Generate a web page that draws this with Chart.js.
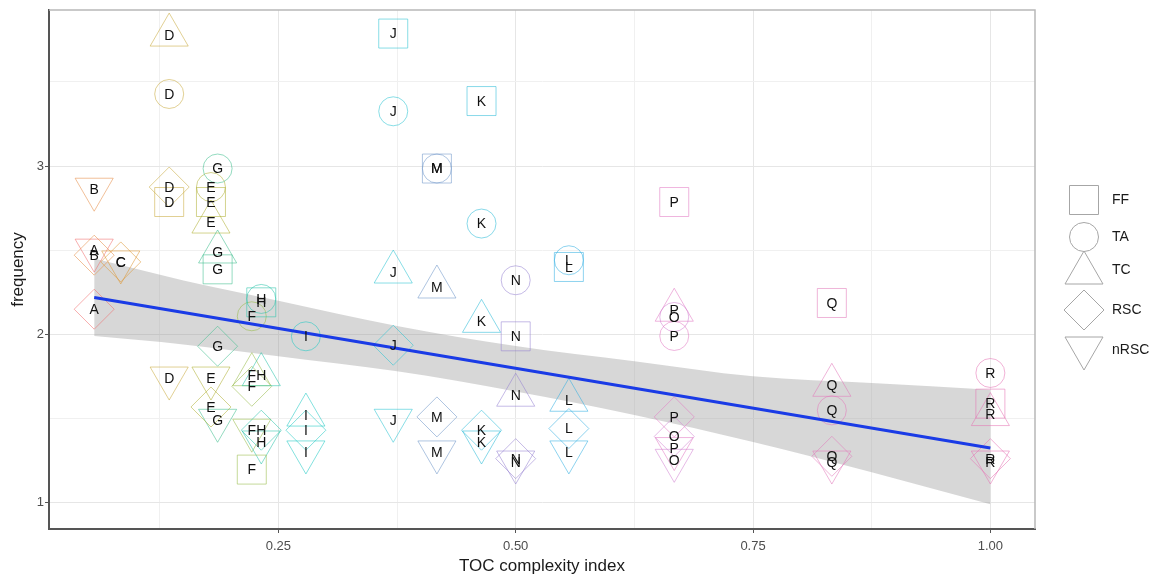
<!DOCTYPE html>
<html>
<head>
<meta charset="utf-8">
<script src="https://cdn.jsdelivr.net/npm/chart.js@4.4.1/dist/chart.umd.min.js"></script>
<style>
html, body { margin: 0; padding: 0; background: #fff; }
#wrap { width: 1163px; height: 575px; position: relative; }
</style>
</head>
<body>
<div id="wrap"><canvas id="tocChart"></canvas></div>
<script>
// letters and their TOC complexity index
var letters = ['A', 'B', 'C', 'D', 'E', 'F', 'G', 'H', 'I', 'J', 'K', 'L', 'M', 'N', 'O', 'P', 'Q', 'R'];
var letterX = [0.056, 0.056, 0.084, 0.135, 0.179, 0.222, 0.186, 0.232, 0.279, 0.371, 0.464, 0.556, 0.417, 0.5, 0.667, 0.667, 0.833, 1.0];
var letterColors = [
	'240,110,110', '230,140,70', '220,150,50', '200,170,60', '175,175,50', '150,185,70',
	'60,190,140', '40,195,170', '30,200,195', '40,195,210', '40,185,215', '50,175,225',
	'110,150,200', '150,130,210', '210,130,210', '225,120,195', '225,120,185', '230,115,180'
];

// frequency per shape group
var ffLetters = ['D', 'E', 'F', 'G', 'H', 'J', 'K', 'L', 'M', 'N', 'P', 'Q', 'R'];
var ffValues = [2.786, 2.786, 1.196, 2.386, 2.19, 3.787, 3.386, 2.40, 2.985, 1.988, 2.786, 2.186, 1.588];

var taLetters = ['D', 'E', 'F', 'G', 'H', 'I', 'J', 'K', 'L', 'M', 'N', 'O', 'P', 'Q', 'R'];
var taValues = [3.428, 2.875, 2.107, 2.985, 2.21, 1.988, 3.325, 2.658, 2.44, 2.985, 2.321, 2.103, 1.99, 1.548, 1.770];

var tcLetters = ['D', 'E', 'F', 'G', 'H', 'I', 'J', 'K', 'L', 'M', 'N', 'P', 'Q', 'R'];
var tcValues = [3.778, 2.667, 1.76, 2.489, 1.76, 1.52, 2.370, 2.077, 1.608, 2.281, 1.638, 2.143, 1.697, 1.523];

var rscLetters = ['A', 'B', 'C', 'D', 'E', 'F', 'G', 'H', 'I', 'J', 'K', 'L', 'M', 'N', 'O', 'P', 'Q', 'R'];
var rscValues = [2.149, 2.47, 2.43, 2.875, 1.568, 1.691, 1.929, 1.43, 1.43, 1.935, 1.430, 1.440, 1.509, 1.261, 1.393, 1.509, 1.275, 1.261];

var nrscLetters = ['A', 'B', 'C', 'D', 'E', 'F', 'G', 'H', 'I', 'J', 'K', 'L', 'M', 'N', 'O', 'P', 'Q', 'R'];
var nrscValues = [2.50, 2.862, 2.43, 1.740, 1.740, 1.43, 1.489, 1.36, 1.301, 1.489, 1.360, 1.301, 1.301, 1.241, 1.251, 1.321, 1.241, 1.241];

// fitted line and its confidence band
var fitX = [0.056, 1.0];
var fitY = [2.218, 1.324];
var bandX = [0.056, 0.15, 0.25, 0.375, 0.5, 0.625, 0.75, 0.875, 1.0];
var bandLower = [1.99, 1.94, 1.87, 1.78, 1.66, 1.52, 1.36, 1.18, 0.99];
var bandUpper = [2.45, 2.32, 2.20, 2.05, 1.93, 1.84, 1.75, 1.71, 1.67];

var xTickValues = [0.125, 0.25, 0.375, 0.5, 0.625, 0.75, 0.875, 1.0];
var xTickLabels = ['', '0.25', '', '0.50', '', '0.75', '', '1.00'];
var yTickValues = [1, 1.5, 2, 2.5, 3, 3.5];
var yTickLabels = ['1', '', '2', '', '3', ''];

var legendNames = ['FF', 'TA', 'TC', 'RSC', 'nRSC'];

var FONT = "'Liberation Sans', Arial, sans-serif";

function colorOf(letter, a) {
	return 'rgba(' + letterColors[letters.indexOf(letter)] + ',' + a + ')';
}

function shapeData(ls, vs) {
	return ls.map(function (l, i) {
		return { x: letterX[letters.indexOf(l)], y: vs[i], letter: l };
	});
}

function shapeSet(name, ls, vs, style, radius, rotation) {
	var data = shapeData(ls, vs);
	return {
		type: 'scatter',
		label: name,
		data: data,
		isShape: true,
		pointStyle: style,
		pointRadius: radius,
		pointRotation: rotation,
		pointBorderWidth: 1,
		pointBackgroundColor: 'rgba(0,0,0,0)',
		pointBorderColor: data.map(function (d) { return colorOf(d.letter, 0.55); }),
		order: 2
	};
}

function xy(xs, ys) {
	return xs.map(function (x, i) { return { x: x, y: ys[i] }; });
}

function isMajorX(v) { return Math.abs(v * 4 - Math.round(v * 4)) < 1e-6; }
function isMajorY(v) { return Math.abs(v - Math.round(v)) < 1e-6; }

// letters on top of the shapes, borders, custom legend
var extrasPlugin = {
	id: 'extras',
	beforeDatasetsDraw: function (chart) {
		var ctx = chart.ctx, a = chart.chartArea;
		ctx.save();
		ctx.strokeStyle = '#b8b8b8';
		ctx.lineWidth = 1.5;
		ctx.beginPath();
		ctx.moveTo(a.left, a.top);
		ctx.lineTo(a.right, a.top);
		ctx.lineTo(a.right, a.bottom);
		ctx.stroke();
		ctx.restore();
	},
	afterDatasetsDraw: function (chart) {
		var ctx = chart.ctx;
		ctx.save();
		ctx.fillStyle = '#111';
		ctx.font = '14px ' + FONT;
		ctx.textAlign = 'center';
		ctx.textBaseline = 'middle';
		chart.data.datasets.forEach(function (ds, i) {
			if (!ds.isShape) return;
			chart.getDatasetMeta(i).data.forEach(function (pt, j) {
				ctx.fillText(ds.data[j].letter, pt.x, pt.y + 1);
			});
		});
		ctx.restore();
	},
	afterDraw: function (chart) {
		var ctx = chart.ctx;
		var rows = [200, 237, 273, 310, 348];
		var sx = 1084, tx = 1112;
		ctx.save();
		ctx.strokeStyle = '#a6a6a6';
		ctx.lineWidth = 1;
		rows.forEach(function (y, i) {
			ctx.beginPath();
			if (i === 0) {
				ctx.rect(sx - 14.5, y - 14.5, 29, 29);
			} else if (i === 1) {
				ctx.arc(sx, y, 14.5, 0, Math.PI * 2);
			} else if (i === 2) {
				ctx.moveTo(sx, y - 22);
				ctx.lineTo(sx + 19, y + 11);
				ctx.lineTo(sx - 19, y + 11);
				ctx.closePath();
			} else if (i === 3) {
				ctx.moveTo(sx, y - 20);
				ctx.lineTo(sx + 20, y);
				ctx.lineTo(sx, y + 20);
				ctx.lineTo(sx - 20, y);
				ctx.closePath();
			} else {
				ctx.moveTo(sx, y + 22);
				ctx.lineTo(sx + 19, y - 11);
				ctx.lineTo(sx - 19, y - 11);
				ctx.closePath();
			}
			ctx.stroke();
		});
		ctx.fillStyle = '#1a1a1a';
		ctx.font = '14px ' + FONT;
		ctx.textAlign = 'left';
		ctx.textBaseline = 'middle';
		var labelRows = [200, 237, 270, 310, 350];
		legendNames.forEach(function (n, i) {
			ctx.fillText(n, tx, labelRows[i]);
		});
		ctx.restore();
	}
};

// eslint-disable-next-line no-undef
var chart = new Chart(document.getElementById('tocChart'), {
	type: 'scatter',
	data: {
		datasets: [
			{
				type: 'line',
				data: xy(bandX, bandLower),
				borderWidth: 0,
				pointRadius: 0,
				cubicInterpolationMode: 'monotone',
				fill: false,
				order: 5
			},
			{
				type: 'line',
				data: xy(bandX, bandUpper),
				borderWidth: 0,
				pointRadius: 0,
				cubicInterpolationMode: 'monotone',
				fill: '-1',
				backgroundColor: 'rgba(150,150,150,0.38)',
				order: 4
			},
			shapeSet('FF', ffLetters, ffValues, 'rect', 20.5, 0),
			shapeSet('TA', taLetters, taValues, 'circle', 14.5, 0),
			shapeSet('TC', tcLetters, tcValues, 'triangle', 22, 0),
			shapeSet('RSC', rscLetters, rscValues, 'rectRot', 20, 0),
			shapeSet('nRSC', nrscLetters, nrscValues, 'triangle', 22, 180),
			{
				type: 'line',
				data: xy(fitX, fitY),
				borderColor: '#1a3be6',
				borderWidth: 3,
				pointRadius: 0,
				fill: false,
				order: 1
			}
		]
	},
	options: {
		responsive: true,
		maintainAspectRatio: false,
		animation: false,
		events: [],
		layout: { autoPadding: false, padding: { left: 0, right: 128, top: 10, bottom: 0 } },
		plugins: {
			legend: { display: false },
			tooltip: { enabled: false }
		},
		scales: {
			x: {
				type: 'linear',
				min: 0.0084,
				max: 1.047,
				afterBuildTicks: function (s) {
					s.ticks = xTickValues.map(function (v) { return { value: v }; });
				},
				afterFit: function (s) {
					s.height = 46;
					s.paddingLeft = 0;
					s.paddingRight = 0;
				},
				grid: {
					color: function (c) { return isMajorX(c.tick.value) ? '#e6e6e6' : '#f0f0f0'; },
					lineWidth: 1,
					tickLength: 4,
					tickColor: function (c) { return isMajorX(c.tick.value) ? '#555' : 'rgba(0,0,0,0)'; }
				},
				border: { color: '#555', width: 2 },
				ticks: {
					autoSkip: false,
					maxRotation: 0,
					padding: 6,
					color: '#4d4d4d',
					font: { family: FONT, size: 13 },
					callback: function (v, i) { return xTickLabels[i]; }
				},
				title: {
					display: true,
					text: 'TOC complexity index',
					color: '#1a1a1a',
					font: { family: FONT, size: 17 },
					padding: { top: 0, bottom: -2 }
				}
			},
			y: {
				type: 'linear',
				min: 0.843,
				max: 3.927,
				afterBuildTicks: function (s) {
					s.ticks = yTickValues.map(function (v) { return { value: v }; });
				},
				afterFit: function (s) {
					s.width = 49;
					s.paddingTop = 0;
					s.paddingBottom = 0;
				},
				grid: {
					color: function (c) { return isMajorY(c.tick.value) ? '#e6e6e6' : '#f0f0f0'; },
					lineWidth: 1,
					tickLength: 4,
					tickColor: function (c) { return isMajorY(c.tick.value) ? '#555' : 'rgba(0,0,0,0)'; }
				},
				border: { color: '#555', width: 2 },
				ticks: {
					autoSkip: false,
					padding: 1,
					color: '#4d4d4d',
					font: { family: FONT, size: 13 },
					callback: function (v, i) { return yTickLabels[i]; }
				},
				title: {
					display: true,
					text: 'frequency',
					color: '#1a1a1a',
					font: { family: FONT, size: 17 },
					padding: { top: 8, bottom: 0 }
				}
			}
		}
	},
	plugins: [extrasPlugin]
});
</script>
</body>
</html>
